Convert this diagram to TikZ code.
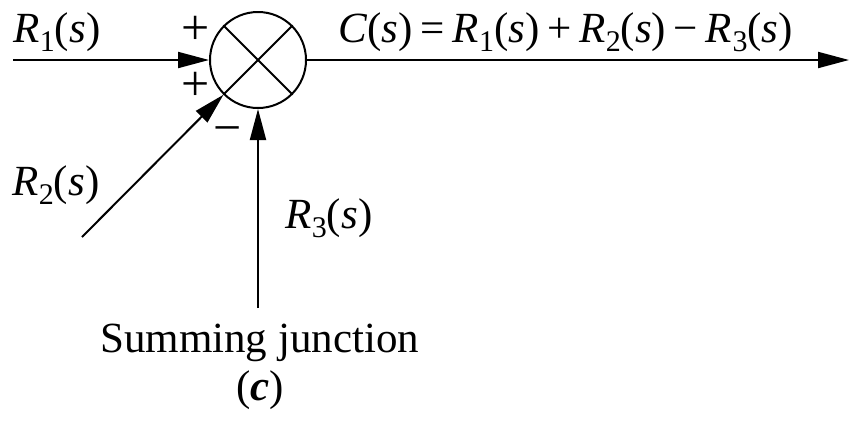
\documentclass[tikz,border=0pt]{standalone}
\usepackage{fontspec}
\setmainfont{Liberation Serif}
\usetikzlibrary{arrows.meta}
\newcommand{\Rsig}[1]{\textit{R}\kern0.5pt\raisebox{-0.23em}{\fontsize{30}{30}\selectfont #1}(\textit{s})}
\newcommand{\gap}{\kern7.7pt}
\begin{document}
\begin{tikzpicture}[x=1pt,y=-1pt,
  wire/.style={line width=2pt},
  sig/.style={wire,-{Triangle[length=31pt,width=16pt]}},
  lbl/.style={anchor=base west,inner sep=0pt,font=\fontsize{43}{50}\selectfont},
  sgn/.style={inner sep=0pt,font=\fontsize{50}{56}\selectfont}]
\useasboundingbox (0,0) rectangle (849,421);
\node[circle,draw,line width=2pt,minimum size=96pt,inner sep=0pt] (sum) at (258,60) {};
\draw[wire] (sum.45) -- (sum.225) (sum.135) -- (sum.315);
\coordinate (r1) at (13,60);
\coordinate (out) at (849,60);
\coordinate (r2) at (82,237);
\coordinate (r3) at (258,308);
\draw[sig] (r1) -- (sum);
\draw[sig] (r2) -- (sum);
\draw[sig] (r3) -- (sum);
\draw[sig] (sum) -- (out);
\node[lbl] (l1) at (13,42) {\Rsig{1}};
\node[lbl] (lc) at (338,42) {\textit{C}(\textit{s})\gap=\gap\Rsig{1}\gap+\gap\Rsig{2}\gap−\gap\Rsig{3}};
\node[lbl] (l2) at (12,195) {\Rsig{2}};
\node[lbl] (l3) at (285,228) {\Rsig{3}};
\node[lbl] (lsj) at (100,352) {Summing junction};
\node[lbl] (lcap) at (236,400) {(\textbf{\textit{c}})};
\node[sgn] (p1) at (196,30) {+};
\node[sgn] (p2) at (196,86) {+};
\node[sgn] (m3) at (228,136) {−};
\end{tikzpicture}
\end{document}
